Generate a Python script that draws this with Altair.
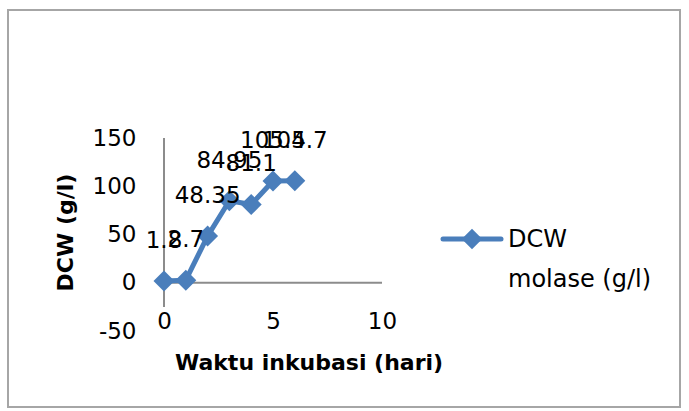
import altair as alt
import pandas as pd

# ---- data ----
days = [0, 1, 2, 3, 4, 5, 6]
dcw = [1.8, 2.7, 48.35, 84.95, 81.1, 105.4, 105.7]
point_labels = ["1.8", "2.7", "48.35", "84.95", "81.1", "105.4", "105.7"]
series_name = ["DCW", "molase (g/l)"]
x_ticks = [0, 5, 10]
y_ticks = [-50, 0, 50, 100, 150]
x_title = "Waktu inkubasi (hari)"
y_title = "DCW (g/l)"

df = pd.DataFrame({"x": days, "y": dcw, "label": point_labels})
one = pd.DataFrame({"k": [0]})

W, H = 218, 193
BLUE = "#4A7EBB"
AXIS_GRAY = "#8C8C8C"
FONT = "DejaVu Sans"

xscale = alt.Scale(domain=[0, 10], nice=False, zero=False)
yscale = alt.Scale(domain=[-50, 150], nice=False, zero=False)

x_axis = alt.Axis(
    values=x_ticks, title=x_title, domain=False, ticks=False, grid=False,
    labelExpr="'' + datum.value",
    labelFont=FONT, labelFontSize=23, labelColor="black", labelAngle=0,
    labelPadding=-10, labelBaseline="middle", labelFlush=False, labelOverlap=False,
    titleFont=FONT, titleFontSize=22, titleFontWeight="bold", titleColor="black",
    titleX=144.5, titleY=31, titleAlign="center", titleBaseline="middle",
)
y_axis = alt.Axis(
    values=y_ticks, title=y_title, domain=False, ticks=False, grid=False,
    labelExpr="'' + datum.value",
    labelFont=FONT, labelFontSize=23, labelColor="black",
    labelPadding=28, labelFlush=False, labelOverlap=False,
    titleFont=FONT, titleFontSize=22, titleFontWeight="bold", titleColor="black",
    titleX=-99, titleY=94, titleAngle=270, titleAlign="center", titleBaseline="middle",
)

base = alt.Chart(df)

border = alt.Chart(one).mark_rect(
    fillOpacity=0, stroke="#A6A6A6", strokeWidth=2
).encode(
    x=alt.value(-156), x2=alt.value(516), y=alt.value(-128), y2=alt.value(269)
)

x_line = alt.Chart(one).mark_rule(color=AXIS_GRAY, strokeWidth=2).encode(
    x=alt.datum(0, scale=xscale), x2=alt.datum(10), y=alt.datum(0, scale=yscale)
)
y_line = alt.Chart(one).mark_rule(color=AXIS_GRAY, strokeWidth=2).encode(
    x=alt.datum(0, scale=xscale), y=alt.datum(150, scale=yscale), y2=alt.datum(-25)
)

line = base.mark_line(color=BLUE, strokeWidth=5, strokeJoin="round").encode(
    x=alt.X("x:Q", scale=xscale, axis=x_axis),
    y=alt.Y("y:Q", scale=yscale, axis=y_axis),
)
pts = base.mark_point(shape="diamond", filled=True, size=440, color=BLUE, opacity=1).encode(
    x=alt.X("x:Q", scale=xscale), y=alt.Y("y:Q", scale=yscale)
)
txt = base.mark_text(dy=-40, font=FONT, fontSize=23, color="black").encode(
    x=alt.X("x:Q", scale=xscale), y=alt.Y("y:Q", scale=yscale), text="label:N"
)

leg_line = alt.Chart(one).mark_rule(color=BLUE, strokeWidth=5, strokeCap="round").encode(
    x=alt.value(279), x2=alt.value(337), y=alt.value(101)
)
leg_pt = alt.Chart(one).mark_point(shape="diamond", filled=True, size=420, color=BLUE, opacity=1).encode(
    x=alt.value(308), y=alt.value(101)
)
leg_txt = alt.Chart(one).mark_text(
    align="left", baseline="top", lineHeight=40, font=FONT, fontSize=24, color="black"
).encode(
    x=alt.value(344), y=alt.value(90), text=alt.value(series_name)
)

chart = alt.layer(
    border, x_line, y_line, line, pts, txt, leg_line, leg_pt, leg_txt
).properties(
    width=W, height=H,
    autosize=alt.AutoSizeParams(type="none"),
    padding={"left": 164, "top": 138, "right": 307, "bottom": 80},
    background="white",
).configure_view(stroke=None)

chart.save("out.html", embed_options={"renderer": "svg", "actions": False})
